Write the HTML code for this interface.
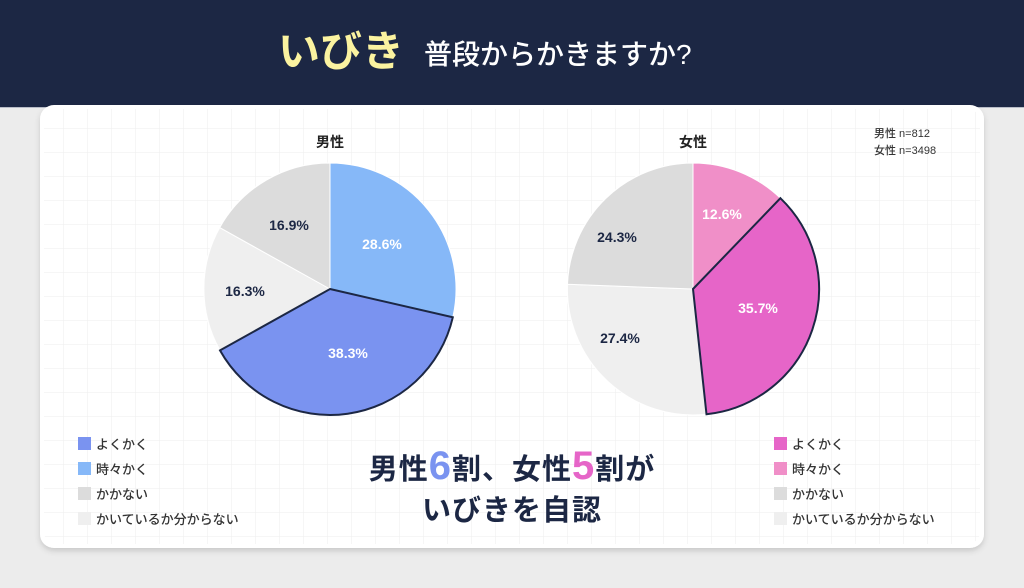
<!DOCTYPE html>
<html><head><meta charset="utf-8"><style>
html,body{margin:0;padding:0;}
body{width:1024px;height:588px;background:#ececec;position:relative;overflow:hidden;font-family:"Liberation Sans","Noto Sans CJK JP",sans-serif;}
</style></head><body>
<svg width="1024" height="588" xmlns="http://www.w3.org/2000/svg" style="position:absolute;left:0;top:0;font-family:'Liberation Sans','Noto Sans CJK JP',sans-serif">
<defs>
<pattern id="g" width="24" height="24" patternUnits="userSpaceOnUse" x="40" y="105">
<path d="M24 0V24M0 24H24" stroke="#eeeeee" stroke-width="1" fill="none"/>
</pattern>
<filter id="sh" x="-5%" y="-5%" width="110%" height="115%"><feDropShadow dx="0" dy="3" stdDeviation="3" flood-color="#000" flood-opacity="0.15"/></filter>
</defs>
<rect x="0" y="0" width="1024" height="107" fill="#1c2744"/>
<rect x="0" y="107" width="1024" height="1" fill="#b8bcc8"/>
<text x="278" y="66" font-size="42" font-weight="bold" fill="#fbf3a0">いびき</text>
<text x="424" y="64" font-size="28" font-weight="500" fill="#ffffff">普段からかきますか?</text>
<rect x="40" y="105" width="944" height="443" rx="14" fill="#ffffff" filter="url(#sh)"/>
<rect x="44" y="109" width="936" height="435" rx="12" fill="url(#g)"/>
<text x="330" y="147" font-size="14" font-weight="bold" fill="#222" text-anchor="middle">男性</text>
<text x="693" y="147" font-size="14" font-weight="bold" fill="#222" text-anchor="middle">女性</text>
<text x="874" y="137" font-size="11" font-weight="500" fill="#333">男性 n=812</text>
<text x="874" y="154" font-size="11" font-weight="500" fill="#333">女性 n=3498</text>
<g stroke="#fff" stroke-width="1">
<path d="M330 289 L330 163 A126 126 0 0 1 452.8 317.3 Z" fill="#86b8f8"/>
<path d="M330 289 L220 350.4 A126 126 0 0 1 219.7 227.6 Z" fill="#efefef"/>
<path d="M330 289 L219.7 227.6 A126 126 0 0 1 330 163 Z" fill="#dcdcdc"/>
</g>
<path d="M330 289 L452.8 317.3 A126 126 0 0 1 220 350.4 Z" fill="#7a93f0" stroke="#1c2744" stroke-width="2"/>
<g font-size="14" font-weight="bold" text-anchor="middle">
<text x="382" y="249" fill="#fff">28.6%</text>
<text x="348" y="358" fill="#fff">38.3%</text>
<text x="245" y="296" fill="#1c2744">16.3%</text>
<text x="289" y="230" fill="#1c2744">16.9%</text>
</g>
<g stroke="#fff" stroke-width="1">
<path d="M693 289 L693 163 A126 126 0 0 1 780.4 198.2 Z" fill="#f08fc8"/>
<path d="M693 289 L706.5 414.3 A126 126 0 0 1 567.5 284.3 Z" fill="#efefef"/>
<path d="M693 289 L567.5 284.3 A126 126 0 0 1 693 163 Z" fill="#dcdcdc"/>
</g>
<path d="M693 289 L780.4 198.2 A126 126 0 0 1 706.5 414.3 Z" fill="#e665c8" stroke="#1c2744" stroke-width="2"/>
<g font-size="14" font-weight="bold" text-anchor="middle">
<text x="722" y="219" fill="#fff">12.6%</text>
<text x="758" y="313" fill="#fff">35.7%</text>
<text x="620" y="343" fill="#1c2744">27.4%</text>
<text x="617" y="242" fill="#1c2744">24.3%</text>
</g>
<g font-size="13" font-weight="500" fill="#333">
<rect x="78" y="437" width="13" height="13" fill="#7a93f0"/><text x="96" y="449">よくかく</text>
<rect x="78" y="462" width="13" height="13" fill="#86b8f8"/><text x="96" y="474">時々かく</text>
<rect x="78" y="487" width="13" height="13" fill="#dcdcdc"/><text x="96" y="499">かかない</text>
<rect x="78" y="512" width="13" height="13" fill="#efefef"/><text x="96" y="524">かいているか分からない</text>
<rect x="774" y="437" width="13" height="13" fill="#e665c8"/><text x="792" y="449">よくかく</text>
<rect x="774" y="462" width="13" height="13" fill="#f08fc8"/><text x="792" y="474">時々かく</text>
<rect x="774" y="487" width="13" height="13" fill="#dcdcdc"/><text x="792" y="499">かかない</text>
<rect x="774" y="512" width="13" height="13" fill="#efefef"/><text x="792" y="524">かいているか分からない</text>
</g>
<text x="512" y="479" font-size="29" font-weight="bold" fill="#1c2744" text-anchor="middle" letter-spacing="1">男性<tspan fill="#7a93f0" font-size="40">6</tspan>割、女性<tspan fill="#e665c8" font-size="40">5</tspan>割が</text>
<text x="512" y="520" font-size="29" font-weight="bold" fill="#1c2744" text-anchor="middle" letter-spacing="1">いびきを自認</text>
</svg>
</body></html>
